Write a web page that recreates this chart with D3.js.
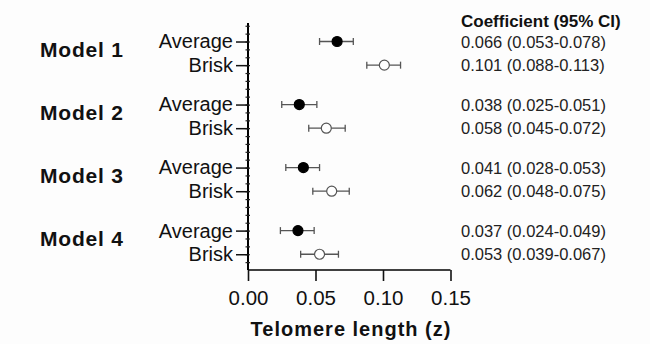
<!DOCTYPE html>
<html>
<head>
<meta charset="utf-8">
<script src="https://cdn.jsdelivr.net/npm/d3@7"></script>
<style>
	body { margin: 0; background: #fdfdfd; }
	svg { display: block; font-family: "Liberation Sans", Arial, sans-serif; }
</style>
</head>
<body>
<div id="chart"></div>
<script>
const models = ["Model 1", "Model 2", "Model 3", "Model 4"];
const groups = ["Average", "Brisk"];
const averageCoef = [0.066, 0.038, 0.041, 0.037];
const averageLow = [0.053, 0.025, 0.028, 0.024];
const averageHigh = [0.078, 0.051, 0.053, 0.049];
const briskCoef = [0.101, 0.058, 0.062, 0.053];
const briskLow = [0.088, 0.045, 0.048, 0.039];
const briskHigh = [0.113, 0.072, 0.075, 0.067];
const xTicks = [0, 0.05, 0.10, 0.15];

const width = 650, height = 344;

let svg = d3.select("#chart")
	.append("svg")
	.attr("width", width)
	.attr("height", height);

// rows: each model takes 8 units, average on top, brisk 3 units below
let rows = [];
models.forEach((m, i) => {
	rows.push({model: m, group: "Average", pos: 29 - 8 * i, coef: averageCoef[i], lo: averageLow[i], hi: averageHigh[i]});
	rows.push({model: m, group: "Brisk", pos: 26 - 8 * i, coef: briskCoef[i], lo: briskLow[i], hi: briskHigh[i]});
});

let x = d3.scaleLinear().domain([0, 0.15]).range([248, 450.5]);
let y = d3.scaleLinear().domain([0, 31.35]).range([270, 23]);
let x0 = x(0);
let axisBottomY = y(0);

// minor ticks on y axis, both sides
let minorL = svg.append("g")
	.attr("transform", "translate(" + x0 + ",0)")
	.call(d3.axisLeft(y).tickValues(d3.range(1, 32)).tickSize(2.5).tickFormat(""));
let minorR = svg.append("g")
	.attr("transform", "translate(" + x0 + ",0)")
	.call(d3.axisRight(y).tickValues(d3.range(1, 32)).tickSize(2).tickFormat(""));
minorR.select(".domain").remove();
minorL.select(".domain").attr("stroke-width", 2).attr("d", "M0," + y(31.35) + "V" + axisBottomY);
[minorL, minorR].forEach(g => g.selectAll(".tick line").attr("stroke", "#222").attr("stroke-width", 1.2));

// category ticks
let labelByPos = {};
rows.forEach(r => labelByPos[r.pos] = r.group);
let yAxis = svg.append("g")
	.attr("transform", "translate(" + x0 + ",0)")
	.call(d3.axisLeft(y).tickValues(rows.map(r => r.pos)).tickSize(12).tickPadding(3).tickFormat(d => labelByPos[d]));
yAxis.select(".domain").remove();
yAxis.selectAll(".tick line").attr("stroke", "#111").attr("stroke-width", 1.5);
yAxis.selectAll(".tick text")
	.attr("font-size", 20)
	.attr("fill", "#111")
	.attr("font-family", "Liberation Sans, Arial, sans-serif");

// x axis
let xAxis = svg.append("g")
	.attr("transform", "translate(0," + axisBottomY + ")")
	.call(d3.axisBottom(x).tickValues(xTicks).tickSize(11).tickPadding(9).tickFormat(d3.format(".2f")));
xAxis.select(".domain").attr("stroke-width", 1.6).attr("d", "M" + x(0) + ",0H" + x(0.15));
xAxis.selectAll(".tick line").attr("stroke", "#111").attr("stroke-width", 1.6);
xAxis.selectAll(".tick text")
	.attr("font-size", 20.5)
	.attr("fill", "#111")
	.attr("font-family", "Liberation Sans, Arial, sans-serif");

svg.append("text")
	.attr("x", 351)
	.attr("y", 336)
	.attr("text-anchor", "middle")
	.attr("font-size", 20)
	.attr("font-weight", "bold")
	.attr("letter-spacing", 1)
	.attr("fill", "#111")
	.text("Telomere length (z)");

// model labels
svg.selectAll("text.model")
	.data(models)
	.enter().append("text")
	.attr("class", "model")
	.attr("x", 40)
	.attr("y", (d, i) => y(27.5 - 8 * i) + 4)
	.attr("font-size", 21)
	.attr("font-weight", "bold")
	.attr("letter-spacing", 0.8)
	.attr("fill", "#111")
	.text(d => d);

// error bars
let bars = svg.selectAll("g.row")
	.data(rows)
	.enter().append("g")
	.attr("class", "row")
	.attr("transform", d => "translate(0," + y(d.pos) + ")");

bars.append("line")
	.attr("x1", d => x(d.lo))
	.attr("x2", d => x(d.hi))
	.attr("stroke", "#555")
	.attr("stroke-width", 1.3);

bars.selectAll("line.cap")
	.data(d => [d.lo, d.hi])
	.enter().append("line")
	.attr("class", "cap")
	.attr("x1", d => x(d))
	.attr("x2", d => x(d))
	.attr("y1", -3.5)
	.attr("y2", 3.5)
	.attr("stroke", "#555")
	.attr("stroke-width", 1.3);

bars.append("circle")
	.attr("cx", d => x(d.coef))
	.attr("r", 5)
	.attr("fill", d => d.group === "Average" ? "#000" : "#fff")
	.attr("stroke", d => d.group === "Average" ? "#000" : "#555")
	.attr("stroke-width", 1.2);

// coefficient column
svg.append("text")
	.attr("x", 461)
	.attr("y", 27)
	.attr("font-size", 17)
	.attr("font-weight", "bold")
	.attr("fill", "#111")
	.text("Coefficient (95% CI)");

let fmt = d3.format(".3f");
svg.selectAll("text.coef")
	.data(rows)
	.enter().append("text")
	.attr("class", "coef")
	.attr("x", 461)
	.attr("y", d => y(d.pos) + 6)
	.attr("font-size", 16.5)
	.attr("fill", "#222")
	.text(d => fmt(d.coef) + " (" + fmt(d.lo) + "-" + fmt(d.hi) + ")");
</script>
</body>
</html>
